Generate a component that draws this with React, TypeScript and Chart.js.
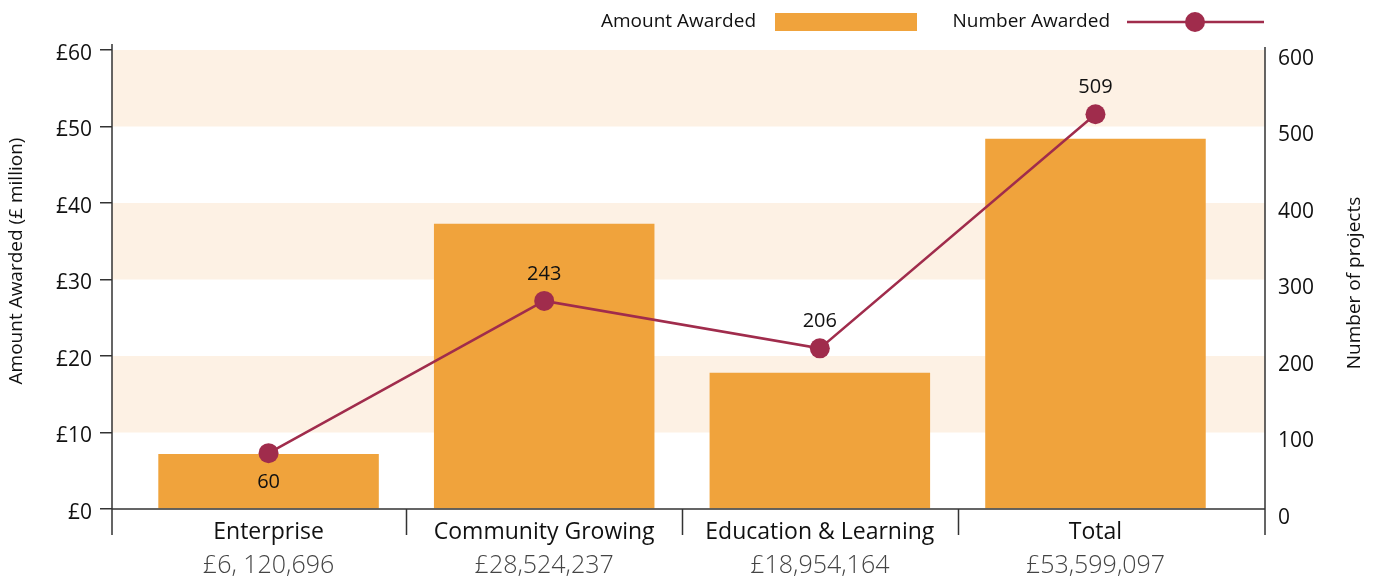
import React, { useEffect, useRef } from "react";
import { Chart, registerables } from "chart.js";
Chart.register(...registerables);

const categories = ["Enterprise", "Community Growing", "Education & Learning", "Total"];
const amountLabels = ["£6, 120,696", "£28,524,237", "£18,954,164", "£53,599,097"];
// Amount awarded (£ million), as drawn by the bars
const amountAwarded = [7.2, 37.3, 17.8, 48.4];
// Number awarded, as plotted by the points on the right axis
const numberAwardedPlotted = [73, 272, 210, 516];
// Number awarded, as written in the data labels
const numberAwardedLabels = [60, 243, 206, 509];
const labelSide = ["below", "above", "above", "above"];
const leftTicks = [0, 10, 20, 30, 40, 50, 60];
const rightTicks = [0, 100, 200, 300, 400, 500, 600];

const FONT = "'Open Sans', 'Noto Sans', sans-serif";
const BAR = "#F0A33C";
const BAND = "#FDF1E4";
const LINE = "#A02C4C";
const AXIS = "#333333";

const decorPlugin = {
  id: "decor",
  beforeDatasetsDraw(chart: any) {
    const { ctx, chartArea } = chart;
    const y = chart.scales.y;
    ctx.save();
    ctx.fillStyle = BAND;
    for (let i = 1; i < leftTicks.length; i += 2) {
      const top = y.getPixelForValue(leftTicks[i + 1] ?? leftTicks[i]);
      const bot = y.getPixelForValue(leftTicks[i]);
      ctx.fillRect(chartArea.left, top, chartArea.right - chartArea.left, bot - top);
    }
    ctx.restore();
  },
  afterDatasetsDraw(chart: any) {
    const { ctx, chartArea } = chart;
    const x = chart.scales.x;
    ctx.save();
    ctx.strokeStyle = AXIS;
    ctx.lineWidth = 1.5;
    ctx.beginPath();
    ctx.moveTo(chartArea.left, chartArea.top - 6);
    ctx.lineTo(chartArea.left, chartArea.bottom + 26);
    ctx.moveTo(chartArea.right, chartArea.top - 3);
    ctx.lineTo(chartArea.right, chartArea.bottom + 26);
    ctx.moveTo(chartArea.left, chartArea.bottom);
    ctx.lineTo(chartArea.right, chartArea.bottom);
    for (let i = 0; i < categories.length - 1; i++) {
      const px = Math.round(x.getPixelForValue(i + 0.5)) + 0.5;
      ctx.moveTo(px, chartArea.bottom);
      ctx.lineTo(px, chartArea.bottom + 26);
    }
    ctx.stroke();

    // category labels
    ctx.textAlign = "center";
    ctx.textBaseline = "middle";
    categories.forEach((c, i) => {
      const px = x.getPixelForValue(i);
      ctx.fillStyle = "#111111";
      ctx.font = `23px ${FONT}`;
      ctx.fillText(c, px, chartArea.bottom + 23);
      ctx.fillStyle = "#444444";
      ctx.font = `300 25px ${FONT}`;
      ctx.fillText(amountLabels[i], px, chartArea.bottom + 57);
    });

    // data labels for the line
    const meta = chart.getDatasetMeta(1);
    ctx.fillStyle = "#111111";
    ctx.font = `20px ${FONT}`;
    meta.data.forEach((pt: any, i: number) => {
      const dy = labelSide[i] === "below" ? 29 : -27;
      ctx.fillText(String(numberAwardedLabels[i]), pt.x, pt.y + dy);
    });

    // axis titles
    ctx.fillStyle = "#111111";
    ctx.font = `19px ${FONT}`;
    ctx.save();
    ctx.translate(17, 261);
    ctx.rotate(-Math.PI / 2);
    ctx.fillText("Amount Awarded (£ million)", 0, 0);
    ctx.restore();
    ctx.save();
    ctx.translate(1355, 283);
    ctx.rotate(-Math.PI / 2);
    ctx.fillText("Number of projects", 0, 0);
    ctx.restore();

    // legend
    ctx.font = `19px ${FONT}`;
    ctx.textAlign = "right";
    ctx.fillStyle = "#111111";
    ctx.fillText(chart.data.datasets[0].label, 756, 22);
    ctx.fillStyle = BAR;
    ctx.fillRect(775, 13, 142, 18);
    ctx.fillStyle = "#111111";
    ctx.fillText(chart.data.datasets[1].label, 1110, 22);
    ctx.strokeStyle = LINE;
    ctx.lineWidth = 2.5;
    ctx.beginPath();
    ctx.moveTo(1127, 22);
    ctx.lineTo(1264, 22);
    ctx.stroke();
    ctx.fillStyle = LINE;
    ctx.beginPath();
    ctx.arc(1195, 22, 10, 0, Math.PI * 2);
    ctx.fill();
    ctx.restore();
  },
};

export default function App() {
  const ref = useRef<HTMLCanvasElement | null>(null);
  useEffect(() => {
    if (!ref.current) return;
    const chart = new Chart(ref.current, {
      type: "bar",
      data: {
        datasets: [
          {
            type: "bar",
            label: "Amount Awarded",
            data: amountAwarded.map((v, i) => ({ x: i, y: v })),
            backgroundColor: BAR,
            yAxisID: "y",
            barPercentage: 0.8,
            categoryPercentage: 1,
            order: 2,
          },
          {
            type: "line",
            label: "Number Awarded",
            data: numberAwardedPlotted.map((v, i) => ({ x: i, y: v })),
            borderColor: LINE,
            backgroundColor: LINE,
            borderWidth: 2.5,
            pointRadius: 10,
            pointHoverRadius: 10,
            pointBackgroundColor: LINE,
            pointBorderWidth: 0,
            yAxisID: "y1",
            order: 1,
          } as any,
        ],
      },
      options: {
        animation: false,
        responsive: false,
        maintainAspectRatio: false,
        layout: { padding: { top: 50, left: 0, right: 0, bottom: 0 } },
        plugins: { legend: { display: false }, tooltip: { enabled: false } },
        scales: {
          x: {
            type: "linear",
            min: -0.568,
            max: 3.615,
            offset: false,
            afterBuildTicks: (s: any) => {
              s.ticks = categories.map((_, i) => ({ value: i }));
            },
            ticks: { display: false },
            grid: { display: false, drawTicks: false },
            border: { display: false },
            afterFit: (s: any) => {
              s.height = 72;
            },
          },
          y: {
            position: "left",
            min: leftTicks[0],
            max: leftTicks[leftTicks.length - 1],
            afterBuildTicks: (s: any) => {
              s.ticks = leftTicks.map((v) => ({ value: v }));
            },
            ticks: {
              callback: (v: any) => "£" + v,
              font: { size: 21, family: FONT },
              color: "#111111",
              padding: 8,
              labelOffset: 4,
            },
            grid: { drawOnChartArea: false, drawTicks: true, tickLength: 12, color: AXIS, lineWidth: 1.5 },
            border: { display: false },
            afterFit: (s: any) => {
              s.width = 112;
            },
          },
          y1: {
            position: "right",
            min: rightTicks[0],
            max: rightTicks[rightTicks.length - 1],
            afterBuildTicks: (s: any) => {
              s.ticks = rightTicks.map((v) => ({ value: v }));
            },
            ticks: {
              font: { size: 21, family: FONT },
              color: "#111111",
              padding: 13,
              labelOffset: 9,
            },
            grid: { display: false, drawOnChartArea: false, drawTicks: false },
            border: { display: false },
            afterFit: (s: any) => {
              s.width = 115;
            },
          },
        },
      } as any,
      plugins: [decorPlugin],
    });
    return () => chart.destroy();
  }, []);
  return (
    <div style={{ position: "fixed", left: 0, top: 0, width: 1380, height: 581, background: "#fff" }}>
      <canvas ref={ref} width={1380} height={581} style={{ width: 1380, height: 581 }} />
    </div>
  );
}
